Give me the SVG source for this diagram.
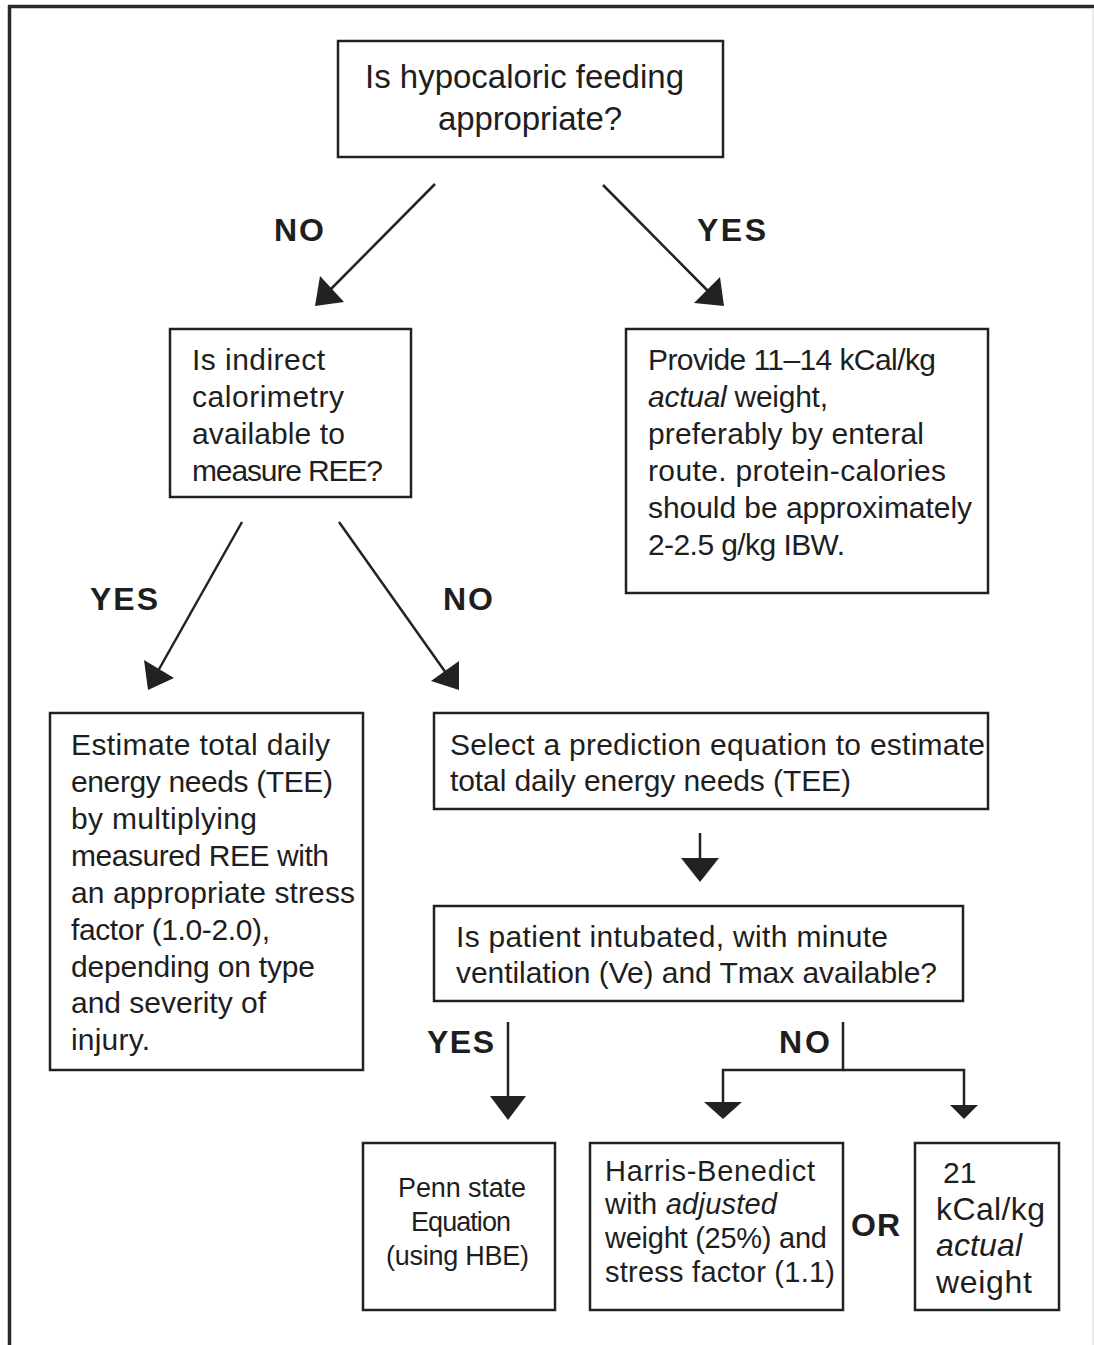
<svg xmlns="http://www.w3.org/2000/svg" width="1094" height="1345" viewBox="0 0 1094 1345">
<style>
.box{fill:#fff;stroke:#222;stroke-width:2.5}
.t{font-family:"Liberation Sans",Arial,sans-serif;fill:#1e1e1e;font-size:30px}
.lab{font-family:"Liberation Sans",Arial,sans-serif;font-weight:bold;fill:#1e1e1e;font-size:32px}
.ln{stroke:#222;stroke-width:2.5;fill:none}
.hd{fill:#222;stroke:none}
.it{font-style:italic}
</style>
<rect width="1094" height="1345" fill="#fff"/>
<g id="frame">
<line x1="8" y1="6.5" x2="1094" y2="6.5" stroke="#2a2a2a" stroke-width="3.5"/>
<line x1="9.5" y1="5" x2="9.5" y2="1345" stroke="#2a2a2a" stroke-width="3.5"/>
<line x1="1093" y1="8" x2="1093" y2="1345" stroke="#e2e2e2" stroke-width="1.5"/>
</g>
<g id="connectors">
<line class="ln" x1="435" y1="184" x2="328" y2="292"/>
<polygon class="hd" points="315,306 320,276 344,302"/>
<line class="ln" x1="603" y1="185" x2="708" y2="291"/>
<polygon class="hd" points="724,306 720,277 694,303"/>
<line class="ln" x1="242" y1="522" x2="158" y2="671"/>
<polygon class="hd" points="148,690 144,660 174,678"/>
<line class="ln" x1="339" y1="522" x2="446" y2="673"/>
<polygon class="hd" points="459,690 459,661 431,681"/>
<line class="ln" x1="700" y1="833" x2="700" y2="860"/>
<polygon class="hd" points="681,858 719,858 700,882"/>
<line class="ln" x1="508" y1="1022" x2="508" y2="1098"/>
<polygon class="hd" points="490,1096 526,1096 508,1120"/>
<polyline class="ln" points="843,1022 843,1070 723,1070 723,1104"/>
<polygon class="hd" points="704,1102 742,1102 723,1119"/>
<polyline class="ln" points="843,1070 964,1070 964,1106"/>
<polygon class="hd" points="950,1105 978,1105 964,1119"/>
<text class="lab" x="274" y="241" textLength="50">NO</text>
<text class="lab" x="697" y="241" textLength="69">YES</text>
<text class="lab" x="90" y="610" textLength="68">YES</text>
<text class="lab" x="443" y="610" textLength="50">NO</text>
<text class="lab" x="427" y="1053" textLength="67">YES</text>
<text class="lab" x="779" y="1053" textLength="51">NO</text>
<text class="lab" x="851" y="1236" textLength="49">OR</text>
</g>
<g id="n1">
<rect class="box" x="338" y="41" width="385" height="116"/>
<text class="t" style="font-size:33px" x="365" y="88" textLength="319">Is hypocaloric feeding</text>
<text class="t" style="font-size:33px" x="438" y="130" textLength="184">appropriate?</text>
</g>
<g id="n2">
<rect class="box" x="170" y="329" width="241" height="168"/>
<text class="t" x="192" y="370" textLength="133">Is indirect</text>
<text class="t" x="192" y="407" textLength="152">calorimetry</text>
<text class="t" x="192" y="444" textLength="153">available to</text>
<text class="t" x="192" y="481" textLength="191">measure REE?</text>
</g>
<g id="n3">
<rect class="box" x="626" y="329" width="362" height="264"/>
<text class="t" x="648" y="370" textLength="288">Provide 11–14 kCal/kg</text>
<text class="t" x="648" y="407" textLength="180"><tspan class="it">actual</tspan> weight,</text>
<text class="t" x="648" y="444" textLength="276">preferably by enteral</text>
<text class="t" x="648" y="481" textLength="298">route. protein-calories</text>
<text class="t" x="648" y="518" textLength="324">should be approximately</text>
<text class="t" x="648" y="555" textLength="197">2-2.5 g/kg IBW.</text>
</g>
<g id="n4">
<rect class="box" x="50" y="713" width="313" height="357"/>
<text class="t" x="71" y="755" textLength="259">Estimate total daily</text>
<text class="t" x="71" y="792" textLength="262">energy needs (TEE)</text>
<text class="t" x="71" y="829" textLength="186">by multiplying</text>
<text class="t" x="71" y="866" textLength="258">measured REE with</text>
<text class="t" x="71" y="903" textLength="284">an appropriate stress</text>
<text class="t" x="71" y="940" textLength="199">factor (1.0-2.0),</text>
<text class="t" x="71" y="977" textLength="244">depending on type</text>
<text class="t" x="71" y="1013" textLength="195">and severity of</text>
<text class="t" x="71" y="1050" textLength="79">injury.</text>
</g>
<g id="n5">
<rect class="box" x="434" y="713" width="554" height="96"/>
<text class="t" x="450" y="755" textLength="535">Select a prediction equation to estimate</text>
<text class="t" x="450" y="791" textLength="401">total daily energy needs (TEE)</text>
</g>
<g id="n6">
<rect class="box" x="434" y="906" width="529" height="95"/>
<text class="t" x="456" y="947" textLength="432">Is patient intubated, with minute</text>
<text class="t" x="456" y="983" textLength="481">ventilation (Ve) and Tmax available?</text>
</g>
<g id="n7">
<rect class="box" x="363" y="1143" width="192" height="167"/>
<text class="t" style="font-size:27px" x="398" y="1197" textLength="128">Penn state</text>
<text class="t" style="font-size:27px" x="411" y="1231" textLength="100">Equation</text>
<text class="t" style="font-size:27px" x="386" y="1265" textLength="143">(using HBE)</text>
</g>
<g id="n8">
<rect class="box" x="590" y="1143" width="253" height="167"/>
<text class="t" style="font-size:29px" x="605" y="1181" textLength="210">Harris-Benedict</text>
<text class="t" style="font-size:29px" x="605" y="1214" textLength="172">with <tspan class="it">adjusted</tspan></text>
<text class="t" style="font-size:29px" x="605" y="1248" textLength="222">weight (25%) and</text>
<text class="t" style="font-size:29px" x="605" y="1282" textLength="230">stress factor (1.1)</text>
</g>
<g id="n9">
<rect class="box" x="915" y="1143" width="144" height="167"/>
<text class="t" style="font-size:30px" x="943" y="1183">21</text>
<text class="t" style="font-size:32px" x="936" y="1220" textLength="109">kCal/kg</text>
<text class="t it" style="font-size:32px" x="936" y="1256" textLength="86">actual</text>
<text class="t" style="font-size:32px" x="936" y="1293" textLength="96">weight</text>
</g>
</svg>
